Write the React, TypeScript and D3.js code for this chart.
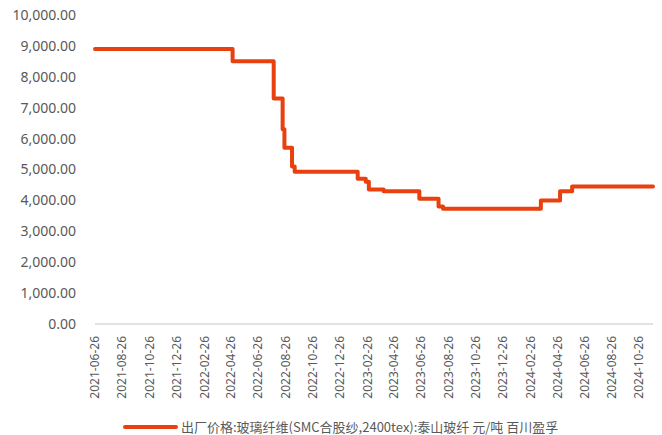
import React from "react";
import * as d3 from "d3";

const changeDates = [
  "2021-06-26", "2022-04-30", "2022-07-31", "2022-08-20", "2022-08-24",
  "2022-09-10", "2022-09-16", "2023-02-04", "2023-02-22", "2023-03-01",
  "2023-04-03", "2023-06-22", "2023-08-04", "2023-08-14", "2024-03-20",
  "2024-05-02", "2024-05-29", "2024-11-26",
];
const prices = [
  8900, 8500, 7300, 6300, 5700,
  5100, 4930, 4700, 4600, 4350,
  4300, 4050, 3800, 3730, 4000,
  4300, 4450, 4450,
];
const xTickLabels = [
  "2021-06-26", "2021-08-26", "2021-10-26", "2021-12-26", "2022-02-26",
  "2022-04-26", "2022-06-26", "2022-08-26", "2022-10-26", "2022-12-26",
  "2023-02-26", "2023-04-26", "2023-06-26", "2023-08-26", "2023-10-26",
  "2023-12-26", "2024-02-26", "2024-04-26", "2024-06-26", "2024-08-26",
  "2024-10-26",
];
const yTicks = [0, 1000, 2000, 3000, 4000, 5000, 6000, 7000, 8000, 9000, 10000];
const seriesName = "出厂价格:玻璃纤维(SMC合股纱,2400tex):泰山玻纤 元/吨 百川盈孚";
const axisStart = "2021-06-26";
const axisEnd = "2024-11-26";

const parse = d3.timeParse("%Y-%m-%d");
const LINE = "#E8410F";
const TEXT = "#595959";

export default function App() {
  const W = 662, H = 435;
  const x = d3.scaleTime().domain([parse(axisStart)!, parse(axisEnd)!]).range([95, 653]);
  const y = d3.scaleLinear().domain([0, 10000]).range([324, 15]);
  const data = changeDates.map((d, i) => ({ date: parse(d)!, v: prices[i] }));
  const line = d3
    .line<{ date: Date; v: number }>()
    .x((d) => x(d.date))
    .y((d) => y(d.v))
    .curve(d3.curveStepAfter);
  const fmt = d3.format(",.2f");

  return (
    <svg
      width={W}
      height={H}
      style={{ position: "absolute", left: 0, top: 0, background: "#fff" }}
      fontFamily="'Noto Sans', 'Noto Sans CJK SC', sans-serif"
    >
      {yTicks.map((t) => (
        <text key={t} x={76} y={y(t)} dy="0.35em" textAnchor="end" fontSize={14} fill={TEXT}>
          {fmt(t)}
        </text>
      ))}
      <line x1={95} x2={653} y1={y(0)} y2={y(0)} stroke="#D9D9D9" strokeWidth={1.5} />
      {xTickLabels.map((l) => {
        const px = x(parse(l)!);
        return (
          <text
            key={l}
            transform={`translate(${px},336) rotate(-90)`}
            textAnchor="end"
            dy="0.35em"
            fontSize={12}
            fill={TEXT}
          >
            {l}
          </text>
        );
      })}
      <path d={line(data) || ""} fill="none" stroke={LINE} strokeWidth={4} strokeLinejoin="round" strokeLinecap="round" />
      <line x1={125} x2={176} y1={427} y2={427} stroke={LINE} strokeWidth={4} strokeLinecap="round" />
      <text x={181} y={427} dy="0.35em" fontSize={13} fill={TEXT} fontFamily="'Noto Sans CJK SC', 'Noto Sans', sans-serif">
        {seriesName}
      </text>
    </svg>
  );
}
